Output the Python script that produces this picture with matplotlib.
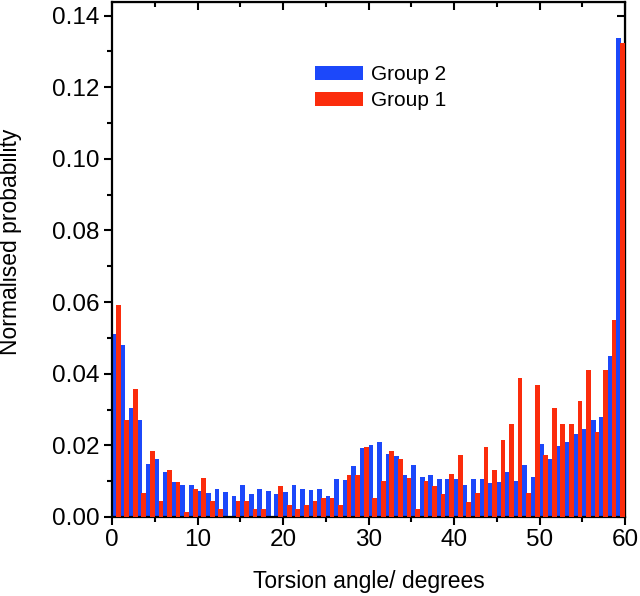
#!/usr/bin/env python

# Torsion angle distribution for two groups (grouped histogram)

import matplotlib

matplotlib.use("Agg")
import matplotlib.pyplot as plt
import numpy as np

plt.rcParams["font.family"] = ["Liberation Sans", "DejaVu Sans"]

# bin start (degrees)
angle = list(range(60))

group2 = [
    0.0512, 0.0480, 0.0305, 0.0272, 0.0149, 0.0163, 0.0126, 0.0099, 0.0089, 0.0089,
    0.0073, 0.0067, 0.0079, 0.0070, 0.0059, 0.0089, 0.0063, 0.0079, 0.0073, 0.0063,
    0.0070, 0.0089, 0.0078, 0.0074, 0.0079, 0.0059, 0.0106, 0.0104, 0.0142, 0.0193,
    0.0202, 0.0208, 0.0177, 0.0170, 0.0118, 0.0145, 0.0112, 0.0116, 0.0105, 0.0105,
    0.0105, 0.0090, 0.0105, 0.0105, 0.0094, 0.0098, 0.0125, 0.0101, 0.0146, 0.0112,
    0.0205, 0.0161, 0.0197, 0.0208, 0.0233, 0.0247, 0.0270, 0.0279, 0.0449, 0.1337,
]

group1 = [
    0.0593, 0.0270, 0.0357, 0.0067, 0.0184, 0.0044, 0.0130, 0.0099, 0.0014, 0.0078,
    0.0109, 0.0044, 0.0023, 0.0000, 0.0044, 0.0044, 0.0023, 0.0023, 0.0000, 0.0087,
    0.0033, 0.0023, 0.0033, 0.0044, 0.0054, 0.0054, 0.0033, 0.0117, 0.0117, 0.0196,
    0.0054, 0.0100, 0.0184, 0.0162, 0.0108, 0.0023, 0.0100, 0.0087, 0.0064, 0.0119,
    0.0174, 0.0043, 0.0066, 0.0196, 0.0130, 0.0216, 0.0259, 0.0388, 0.0067, 0.0368,
    0.0174, 0.0303, 0.0259, 0.0259, 0.0323, 0.0410, 0.0237, 0.0410, 0.0549, 0.1323,
]

blue = "#1c48fa"
red = "#fb2c0c"

fig = plt.figure(figsize=(6.4, 5.96), dpi=100)
ax = fig.add_axes([0.175, 0.1326, 0.8016, 0.864])

x = np.array(angle, dtype=float)
w = 0.55
ax.bar(x, group2, width=w, align="edge", color=blue, linewidth=0, label="Group 2", zorder=2)
ax.bar(x + 1 - w, group1, width=w, align="edge", color=red, linewidth=0, label="Group 1", zorder=3)

ax.set_xlim(0, 60)
ax.set_ylim(0, 0.1438)
ax.set_xticks(np.arange(0, 61, 10))
ax.set_xticks(np.arange(0, 61, 5), minor=True)
ax.set_yticks(np.arange(0, 0.141, 0.02))
ax.set_yticks(np.arange(0, 0.141, 0.01), minor=True)
ax.set_yticklabels(["%.2f" % v for v in np.arange(0, 0.141, 0.02)])

for s in ax.spines.values():
    s.set_linewidth(1.6)

ax.tick_params(which="both", direction="out", width=1.5, labelsize=17.5, pad=3)
ax.tick_params(which="major", length=6)
ax.tick_params(which="minor", length=3.5)

# mirrored inward ticks on top / right
axt = ax.secondary_xaxis("top")
axt.set_xticks(np.arange(0, 61, 10))
axt.set_xticks(np.arange(0, 61, 5), minor=True)
axt.tick_params(which="both", direction="in", width=1.5, labeltop=False)
axt.tick_params(which="major", length=6)
axt.tick_params(which="minor", length=3.5)
axr = ax.secondary_yaxis("right")
axr.set_yticks(np.arange(0, 0.141, 0.02))
axr.set_yticks(np.arange(0, 0.141, 0.01), minor=True)
axr.tick_params(which="both", direction="in", width=1.5, labelright=False)
axr.tick_params(which="major", length=6)
axr.tick_params(which="minor", length=3.5)

ax.set_xlabel("Torsion angle/ degrees", fontsize=16.5, labelpad=13)
ax.set_ylabel("Normalised probability", fontsize=16.5)
ax.yaxis.set_label_coords(-0.175, 0.535)

ax.legend(
    loc="upper left",
    bbox_to_anchor=(0.36, 0.914),
    frameon=False,
    fontsize=15,
    handlelength=2.3,
    handleheight=0.63,
    handletextpad=0.35,
    labelspacing=0.35,
)

fig.savefig("out.png", dpi=100)
